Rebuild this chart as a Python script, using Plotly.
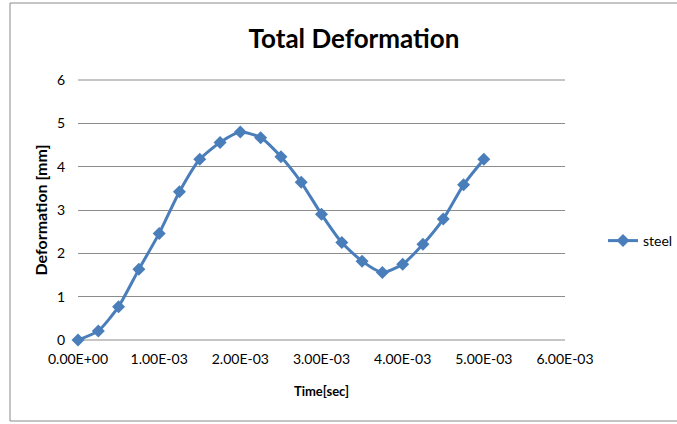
import plotly.graph_objects as go

# Time samples (s) and total deformation (mm) for the steel specimen
time_s = [0.0, 0.25e-3, 0.5e-3, 0.75e-3, 1.0e-3, 1.25e-3, 1.5e-3, 1.75e-3, 2.0e-3,
          2.25e-3, 2.5e-3, 2.75e-3, 3.0e-3, 3.25e-3, 3.5e-3, 3.75e-3, 4.0e-3,
          4.25e-3, 4.5e-3, 4.75e-3, 5.0e-3]
deformation_mm = [0.0, 0.21, 0.77, 1.63, 2.46, 3.42, 4.17, 4.56, 4.80,
                  4.67, 4.23, 3.64, 2.90, 2.25, 1.82, 1.56, 1.75,
                  2.21, 2.79, 3.58, 4.17]
series_name = "steel"
x_tick_vals = [0, 1e-3, 2e-3, 3e-3, 4e-3, 5e-3, 6e-3]
x_tick_text = ["0.00E+00", "1.00E-03", "2.00E-03", "3.00E-03", "4.00E-03", "5.00E-03", "6.00E-03"]

W, H = 677, 424
L, R, T, B = 78, 112, 80, 84
pw, ph = W - L - R, H - T - B

blue = "#4A7EBB"
grid = "#8C8C8C"
font = "Lato, 'Open Sans', sans-serif"

fig = go.Figure()
fig.add_trace(go.Scatter(
    x=time_s, y=deformation_mm, name=series_name, mode="lines+markers",
    line=dict(color=blue, width=3, shape="spline", smoothing=0.6),
    marker=dict(symbol="diamond", size=10, color=blue),
    cliponaxis=False,
))

def px_x(p):
    return (p - L) / pw

def px_y(p):
    return (H - B - p) / ph

fig.update_layout(
    width=W, height=H,
    margin=dict(l=L, r=R, t=T, b=B, autoexpand=False),
    paper_bgcolor="white", plot_bgcolor="white",
    font=dict(family=font, size=13, color="#000000"),
    title=dict(text="<b>Total Deformation</b>", x=354 / W, xanchor="center",
               y=1 - 39 / H, yanchor="middle", font=dict(size=26, family=font)),
    showlegend=True,
    legend=dict(x=px_x(603), y=px_y(241), xanchor="left", yanchor="middle",
                bgcolor="rgba(0,0,0,0)", font=dict(size=14, family=font),
                itemwidth=30),
    xaxis=dict(range=[0, 6e-3], tickvals=x_tick_vals, ticktext=x_tick_text,
               showgrid=False, zeroline=False, showline=False, ticks="",
               tickfont=dict(size=14), ticklabelstandoff=9,
               title=dict(text="<b>Time[sec]</b>", font=dict(size=13), standoff=20)),
    yaxis=dict(range=[0, 6], dtick=1, showgrid=True, gridcolor=grid, gridwidth=1,
               zeroline=False, showline=False, ticks="", tickfont=dict(size=14),
               ticklabelstandoff=12,
               title=dict(text="<b>Deformation [mm]</b>", font=dict(size=16), standoff=5)),
)

# bottom and top grid lines of the plot area, and the outer chart frame
fig.add_shape(type="line", xref="paper", yref="paper", x0=0, x1=1, y0=0, y1=0,
              line=dict(color=grid, width=1), layer="below")
fig.add_shape(type="line", xref="paper", yref="paper", x0=0, x1=1, y0=1, y1=1,
              line=dict(color=grid, width=1), layer="below")
fig.add_shape(type="rect", xref="paper", yref="paper",
              x0=px_x(10), x1=px_x(700), y0=px_y(421), y1=px_y(3),
              line=dict(color="#8A8A8A", width=1), fillcolor="rgba(0,0,0,0)")

fig.write_html("out.html")
